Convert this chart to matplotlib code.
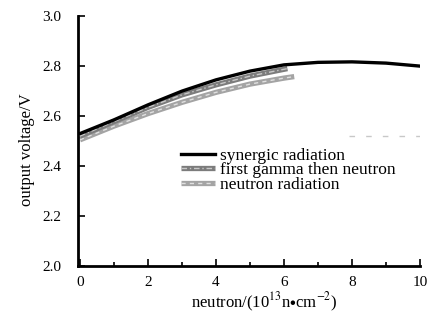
import matplotlib.pyplot as plt
import numpy as np
from matplotlib.ticker import MultipleLocator
from matplotlib.legend_handler import HandlerTuple

plt.rcParams.update({
    "font.family": ["Liberation Serif", "DejaVu Serif"],
    "mathtext.fontset": "stix",
    "xtick.direction": "in",
    "ytick.direction": "in",
})

# data
x_syn = [0, 1, 2, 3, 4, 5, 6, 7, 8, 9, 10]
y_syn = [2.53, 2.585, 2.645, 2.70, 2.745, 2.78, 2.805, 2.815, 2.817, 2.812, 2.80]

x_gam = [0, 1, 2, 3, 4, 5, 6.1]
y_gam = [2.52, 2.578, 2.635, 2.685, 2.725, 2.76, 2.79]

x_neu = [0, 1, 2, 3, 4, 5, 6, 6.3]
y_neu = [2.505, 2.56, 2.61, 2.655, 2.695, 2.728, 2.752, 2.758]

# small leftover dashed fragment in the original
x_frag = [7.9, 10]
y_frag = [2.52, 2.52]

labels = ["synergic radiation", "first gamma then neutron", "neutron radiation"]

fig = plt.figure(figsize=(4.33, 3.16), dpi=100)
ax = fig.add_axes([0.18, 0.158, 0.79, 0.791])

# gray bands with lighter dashes inside
n1, = ax.plot(x_neu, y_neu, color="#a4a4a4", lw=3.8, solid_capstyle="butt", zorder=2)
n2, = ax.plot(x_neu, y_neu, color="#e0e0e0", lw=1.0, dashes=(3, 3), zorder=2.1)
g1, = ax.plot(x_gam, y_gam, color="#7c7c7c", lw=3.8, solid_capstyle="butt", zorder=3)
g2, = ax.plot(x_gam, y_gam, color="#c8c8c8", lw=1.0, dashes=(4, 2, 1, 2), zorder=3.1)
s1, = ax.plot(x_syn, y_syn, color="black", lw=2.4, zorder=4)
ax.plot(x_frag, y_frag, color="#c8c8c8", lw=1, dashes=(4, 8), zorder=1)

ax.set_xlim(-0.06, 10)
ax.set_ylim(2.0, 3.0)
ax.xaxis.set_major_locator(MultipleLocator(2))
ax.xaxis.set_minor_locator(MultipleLocator(1))
ax.yaxis.set_major_locator(MultipleLocator(0.2))
ax.yaxis.set_major_formatter(plt.FormatStrFormatter("%.1f"))

for s in ["top", "right"]:
    ax.spines[s].set_visible(False)
for s in ["left", "bottom"]:
    ax.spines[s].set_linewidth(2)
ax.tick_params(axis="both", which="major", length=5, width=1.2, labelsize=11)
ax.tick_params(axis="y", which="major", pad=12)
ax.tick_params(axis="x", which="major", pad=7.5)
ax.tick_params(axis="x", which="minor", length=3, width=1.2)

ax.set_xlabel(r"neutron/(10$^{13}$n$\bullet$cm$^{-2}$)", fontsize=12)
ax.set_ylabel("output voltage/V", fontsize=12)
ax.xaxis.set_label_coords(0.544, -0.1)
ax.yaxis.set_label_coords(-0.125, 0.464)

ax.legend([s1, (g1, g2), (n1, n2)], labels,
          handler_map={tuple: HandlerTuple(ndivide=1, pad=0)},
          loc="upper left", bbox_to_anchor=(0.3, 0.473), frameon=False,
          fontsize=12.5, labelspacing=-0.1, handlelength=2.0, handletextpad=0.3,
          borderpad=0, borderaxespad=0)

fig.savefig("out.png", dpi=100)
